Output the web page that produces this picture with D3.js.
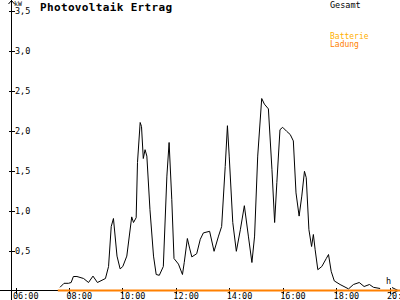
<!DOCTYPE html>
<html>
<head>
<meta charset="utf-8">
<script src="https://cdn.jsdelivr.net/npm/d3@7"></script>
<style>
  body { margin: 0; background: #fff; }
  svg { display: block; }
  text { font-family: "DejaVu Sans Mono", monospace; }
</style>
</head>
<body>
<div id="chart"></div>
<script>

// Gesamt (kW)
var gesamtTimes = ["07:40","07:49","07:59","08:05","08:10","08:18","08:33","08:44","08:54","09:04",
  "09:22","09:29","09:35","09:40","09:48","09:55","10:01","10:10","10:21","10:25",
  "10:31","10:34","10:40","10:43","10:47","10:51","10:55","11:02","11:10","11:16",
  "11:23","11:32","11:40","11:45","11:51","11:56","12:06","12:15","12:19","12:26",
  "12:31","12:36","12:47","12:55","13:02","13:16","13:26","13:36","13:43","13:51",
  "13:56","14:00","14:08","14:16","14:25","14:34","14:43","14:51","14:57","15:04",
  "15:13","15:19","15:28","15:36","15:42","15:47","15:54","16:00","16:09","16:17",
  "16:24","16:30","16:37","16:43","16:49","16:53","16:59","17:05","17:09","17:13",
  "17:19","17:28","17:38","17:43","17:49","17:56","18:09","18:28","18:39","18:52",
  "19:03","19:15","19:24","19:39"];
var gesamtValues = [0.04,0.09,0.09,0.10,0.175,0.175,0.15,0.10,0.18,0.10,
  0.15,0.30,0.80,0.90,0.43,0.27,0.30,0.43,0.92,0.85,
  0.91,1.60,2.10,2.05,1.65,1.76,1.68,1.01,0.43,0.20,
  0.19,0.30,1.43,1.85,1.14,0.40,0.33,0.20,0.35,0.65,
  0.53,0.42,0.46,0.64,0.72,0.74,0.49,0.68,0.80,1.55,
  2.06,1.68,0.85,0.49,0.76,1.06,0.68,0.35,0.68,1.68,
  2.40,2.33,2.27,1.51,0.85,1.35,2.01,2.04,1.99,1.95,
  1.87,1.22,0.93,1.18,1.49,1.41,0.76,0.55,0.70,0.51,
  0.26,0.30,0.40,0.45,0.24,0.12,0.075,0.02,0.075,0.10,
  0.05,0.075,0.04,0.025];

// Batterie Ladung (kW)
var ladungTimes = ["07:35","12:00","16:00","20:30"];
var ladungValues = [0, 0, 0, 0];

var xTicks = [6, 8, 10, 12, 14, 16, 18, 20];
var yTicks = [0.5, 1.0, 1.5, 2.0, 2.5, 3.0, 3.5];

var width = 400, height = 300;

function toHour(s) {
  var p = s.split(":");
  return +p[0] + (+p[1]) / 60;
}

var x = d3.scaleLinear().domain([6, 20]).range([15.5, 389.5]);
var y = d3.scaleLinear().domain([0, 3.5]).range([290.5, 10.5]);

var svg = d3.select("#chart").append("svg")
    .attr("width", width)
    .attr("height", height);

// lines
var line = d3.line()
    .x(function(d) { return x(d.h); })
    .y(function(d) { return y(d.v); });

var gesamt = gesamtTimes.map(function(t, i) { return {h: toHour(t), v: gesamtValues[i]}; });
var ladung = ladungTimes.map(function(t, i) { return {h: toHour(t), v: ladungValues[i]}; });

svg.append("path")
    .datum(gesamt)
    .attr("d", line)
    .attr("fill", "none")
    .attr("stroke", "#000")
    .attr("stroke-width", 1);

// x axis line (black), orange series on top
svg.append("line")
    .attr("x1", 0).attr("x2", 397)
    .attr("y1", y(0)).attr("y2", y(0))
    .attr("stroke", "#000")
    .attr("shape-rendering", "crispEdges");

svg.append("path")
    .attr("d", "M392,287.5 L398,290.5 L392,293.5")
    .attr("fill", "none")
    .attr("stroke", "#000");

// y axis line
svg.append("line")
    .attr("x1", 11.5).attr("x2", 11.5)
    .attr("y1", 0).attr("y2", 300)
    .attr("stroke", "#000")
    .attr("shape-rendering", "crispEdges");

svg.append("path")
    .attr("d", "M8.5,4 L11.5,0.5 L14.5,4")
    .attr("fill", "none")
    .attr("stroke", "#000");

var yAxis = svg.append("g")
    .attr("transform", "translate(11.5,0)")
    .call(d3.axisLeft(y).tickValues(yTicks).tickSize(3)
      .tickFormat(function(d) { return d3.format(".1f")(d).replace(".", ","); }));
yAxis.select(".domain").remove();
yAxis.selectAll(".tick line").attr("x1", -3).attr("x2", 3).attr("shape-rendering", "crispEdges");
yAxis.selectAll(".tick text")
    .attr("x", 3.5)
    .attr("text-anchor", "start")
    .style("font-size", "8.5px")
    .style("fill", "#000");
yAxis.attr("font-family", null).attr("font-size", null);

var xAxis = svg.append("g")
    .attr("transform", "translate(0," + y(0) + ")")
    .call(d3.axisBottom(x).tickValues(xTicks).tickSize(3)
      .tickFormat(function(d) { return (d < 10 ? "0" : "") + d + ":00"; }));
xAxis.select(".domain").remove();
xAxis.selectAll(".tick line").attr("y1", -3).attr("y2", 3).attr("shape-rendering", "crispEdges");
xAxis.selectAll(".tick text")
    .attr("x", -3)
    .attr("y", 8.5)
    .attr("dy", 0)
    .attr("text-anchor", "start")
    .style("font-size", "8.5px")
    .style("fill", "#000");
xAxis.attr("font-family", null).attr("font-size", null);

svg.append("path")
    .datum(ladung)
    .attr("d", line)
    .attr("fill", "none")
    .attr("stroke", "#ff8000")
    .attr("stroke-width", 2);

// labels
svg.append("text").attr("x", 14).attr("y", 5.5)
    .style("font-size", "6.5px").text("kW");
svg.append("text").attr("x", 386).attr("y", 284)
    .style("font-size", "8.5px").text("h");

svg.append("text").attr("x", 40).attr("y", 11)
    .style("font-size", "11px")
    .style("font-weight", "bold")
    .style("letter-spacing", "0.35px")
    .text("Photovoltaik Ertrag");

svg.append("text").attr("x", 330).attr("y", 7.5)
    .style("font-size", "8.5px").text("Gesamt");
svg.append("text").attr("x", 330).attr("y", 38.5)
    .style("font-size", "8px").style("fill", "#ffb000").text("Batterie");
svg.append("text").attr("x", 330).attr("y", 47)
    .style("font-size", "8px").style("fill", "#ff8000").text("Ladung");

</script>
</body>
</html>
